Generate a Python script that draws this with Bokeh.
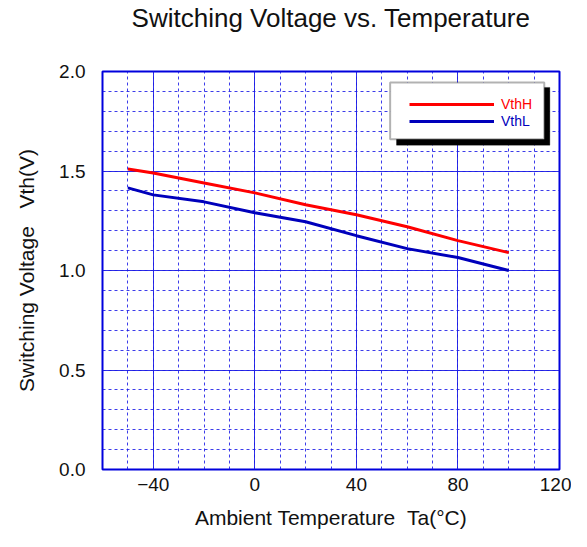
from bokeh.plotting import figure
from bokeh.models import (Range1d, FixedTicker, Legend, LegendItem, BoxAnnotation,
                          Title, PrintfTickFormatter)
from bokeh.embed import file_html
from bokeh.resources import INLINE

temps = [-50, -40, -20, 0, 20, 40, 60, 80, 100]
vth_h = [1.51, 1.49, 1.44, 1.39, 1.33, 1.28, 1.22, 1.15, 1.09]
vth_l = [1.415, 1.38, 1.345, 1.29, 1.245, 1.175, 1.11, 1.065, 1.00]

x_ticks = [-40, 0, 40, 80, 120]
x_minor = list(range(-60, 121, 10))
y_ticks = [0.0, 0.5, 1.0, 1.5, 2.0]
y_minor = [round(i * 0.1, 1) for i in range(0, 21)]

FONT = "Liberation Sans"
GRID_BLUE = "#1a1ae6"

p = figure(width=571, height=531, output_backend="svg", toolbar_location=None,
           title=None,
           x_range=Range1d(-60, 120), y_range=Range1d(0, 2.0),
           min_border_left=102, min_border_right=12, min_border_top=71,
           min_border_bottom=61)
p.background_fill_color = "white"
p.border_fill_color = "white"
p.outline_line_color = "#0000dd"
p.outline_line_width = 2

# spacer panel next to the frame, then the title above it
p.add_layout(Title(text=" ", text_font_size="1px", standoff=36), "above")
p.add_layout(Title(text="Switching Voltage vs. Temperature", align="center",
                   text_font=FONT, text_font_size="26px", text_font_style="normal",
                   text_color="#111111", standoff=0), "above")

# grids
p.xgrid.ticker = FixedTicker(ticks=x_ticks, minor_ticks=x_minor)
p.ygrid.ticker = FixedTicker(ticks=y_ticks, minor_ticks=y_minor)
for g in (p.xgrid, p.ygrid):
    g.grid_line_color = GRID_BLUE
    g.grid_line_width = 1
    g.grid_line_alpha = 0.9
    g.minor_grid_line_color = GRID_BLUE
    g.minor_grid_line_dash = "3 3"
    g.minor_grid_line_alpha = 0.85
    g.minor_grid_line_width = 1

# axes
p.xaxis.ticker = FixedTicker(ticks=x_ticks)
p.yaxis.ticker = FixedTicker(ticks=y_ticks)
p.yaxis.formatter = PrintfTickFormatter(format="%.1f")
for ax in (p.xaxis, p.yaxis):
    ax.axis_line_color = None
    ax.major_tick_line_color = None
    ax.minor_tick_line_color = None
    ax.major_label_text_font = FONT
    ax.major_label_text_font_size = "19px"
    ax.major_label_text_color = "#111111"
    ax.axis_label_text_font = FONT
    ax.axis_label_text_font_style = "normal"
    ax.axis_label_text_color = "#111111"
p.xaxis.axis_label_text_font_size = "21px"
p.yaxis.axis_label_text_font_size = "21px"
p.xaxis.major_label_standoff = 2
p.yaxis.major_label_standoff = 11
p.xaxis.axis_label = "Ambient Temperature\u00a0\u00a0Ta(\u00b0C)"
p.yaxis.axis_label = "Switching Voltage\u00a0\u00a0\u00a0Vth(V)"
p.xaxis.axis_label_standoff = 12
p.yaxis.axis_label_standoff = 18

r_h = p.line(temps, vth_h, line_color="#ff0000", line_width=3)
r_l = p.line(temps, vth_l, line_color="#0000bb", line_width=3)

# legend box with shadow
p.add_layout(BoxAnnotation(left=55.8, right=116.2, bottom=1.63, top=1.92,
                           fill_color="black", fill_alpha=1, line_color="black"))
p.add_layout(BoxAnnotation(left=53.3, right=114.0, bottom=1.66, top=1.945,
                           fill_color="white", fill_alpha=1, line_color="black",
                           line_width=2))

for r, lab, col, ypos in ((r_h, "VthH", "#ff0000", 357), (r_l, "VthL", "#0000bb", 340)):
    leg = Legend(items=[LegendItem(label=lab, renderers=[r])], location=(307, ypos),
                 border_line_color=None, background_fill_alpha=0,
                 glyph_width=85, glyph_height=16, label_standoff=7,
                 label_text_font=FONT, label_text_font_size="14px",
                 label_text_color=col, padding=2, margin=0, spacing=0,
                 label_height=16)
    p.add_layout(leg)

open("out.html", "w").write(file_html(p, INLINE))
